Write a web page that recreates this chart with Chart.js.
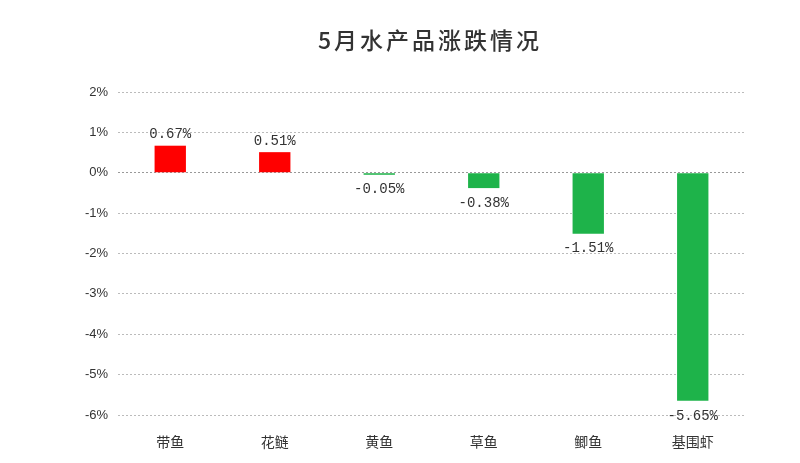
<!DOCTYPE html>
<html><head><meta charset="utf-8">
<script src="https://cdn.jsdelivr.net/npm/chart.js@4/dist/chart.umd.min.js"></script>
<style>html,body{margin:0;padding:0;background:#fff}#w{width:800px;height:463px}</style>
</head><body><div id="w"><canvas id="c"></canvas></div>
<script>
const categories = ["带鱼","花鲢","黄鱼","草鱼","鲫鱼","基围虾"];
const values = [0.67, 0.51, -0.05, -0.38, -1.51, -5.65];
const labels = ["0.67%","0.51%","-0.05%","-0.38%","-1.51%","-5.65%"];
const yTicks = [2,1,0,-1,-2,-3,-4,-5,-6];
const colors = values.map(v => v >= 0 ? "#ff0000" : "#1eb34a");

const deco = {
  id: "deco",
  afterDraw(chart) {
    const ctx = chart.ctx;
    ctx.save();
    ctx.fillStyle = "#333";
    ctx.font = "500 23px 'Noto Sans CJK SC'";
    ctx.textAlign = "center"; ctx.textBaseline = "middle";
    if (ctx.letterSpacing !== undefined) ctx.letterSpacing = "3px";
    ctx.fillText("5月水产品涨跌情况", 430, 40);
    if (ctx.letterSpacing !== undefined) ctx.letterSpacing = "0px";
    ctx.font = "14px 'Liberation Mono'";
    const meta = chart.getDatasetMeta(0);
    meta.data.forEach((b, i) => {
      const v = values[i];
      if (v >= 0) { ctx.textBaseline = "bottom"; ctx.fillText(labels[i], b.x, b.y - 4); }
      else { ctx.textBaseline = "top"; ctx.fillText(labels[i], b.x, b.y + 8); }
    });
    ctx.restore();
  }
};

new Chart(document.getElementById("c"), {
  type: "bar",
  data: { labels: categories, datasets: [{ data: values, backgroundColor: colors, barPercentage: 0.3, categoryPercentage: 1 }] },
  options: {
    responsive: true, maintainAspectRatio: false, animation: false,
    layout: { padding: { top: 92, right: 55, left: 0, bottom: 0 } },
    plugins: { legend: { display: false }, tooltip: { enabled: false } },
    scales: {
      x: {
        grid: { display: false }, border: { display: false },
        ticks: { color: "#333", font: { size: 14, family: "'Noto Sans CJK SC'" }, padding: 10 },
        afterFit(s) { s.height = 48; }
      },
      y: {
        min: -6, max: 2,
        afterBuildTicks(s) { s.ticks = yTicks.map(v => ({ value: v })); },
        ticks: { color: "#333", font: { size: 13, family: "'Liberation Sans'" }, callback: v => v + "%", padding: 10 },
        grid: { color: ctx => ctx.tick && ctx.tick.value === 0 ? "#999" : "#bbb", drawTicks: false, tickLength: 0 },
        border: { display: false, dash: [2, 2] },
        afterFit(s) { s.width = 118; }
      }
    }
  },
  plugins: [deco]
});
</script></body></html>
